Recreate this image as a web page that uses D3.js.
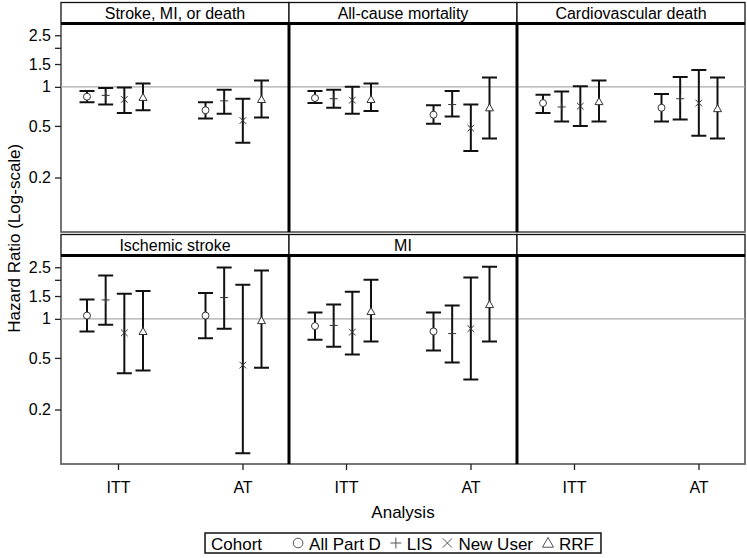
<!DOCTYPE html>
<html>
<head>
<meta charset="utf-8">
<script src="https://cdn.jsdelivr.net/npm/d3@7"></script>
<style>
  body { margin: 0; background: #fff; }
  svg { display: block; font-family: "Liberation Sans", Arial, sans-serif; }
</style>
</head>
<body>
<div id="chart"></div>
<script>
// panel titles (row-major, 3 columns, last cell empty)
const panels = ['Stroke, MI, or death', 'All-cause mortality', 'Cardiovascular death',
  'Ischemic stroke', 'MI', ''];
const analyses = ['ITT', 'AT'];
const cohorts = ['All Part D', 'LIS', 'New User', 'RRF'];
const yTicks = [0.2, 0.5, 1, 1.5, 2, 2.5];
const yTickLabels = ['0.2', '0.5', '1', '1.5', '', '2.5'];

// hazard ratio estimates: [panel][analysis][cohort]
const hrEst = [
  [[0.84, 0.86, 0.80, 0.83], [0.66, 0.78, 0.55, 0.80]],
  [[0.82, 0.81, 0.79, 0.80], [0.61, 0.73, 0.48, 0.69]],
  [[0.75, 0.70, 0.71, 0.77], [0.69, 0.81, 0.75, 0.68]],
  [[1.06, 1.40, 0.78, 0.80], [1.06, 1.46, 0.44, 0.97]],
  [[0.88, 0.89, 0.79, 1.14], [0.80, 0.77, 0.84, 1.29]],
];
const hrLow = [
  [[0.76, 0.73, 0.63, 0.66], [0.57, 0.62, 0.37, 0.58]],
  [[0.75, 0.69, 0.62, 0.65], [0.52, 0.59, 0.32, 0.40]],
  [[0.63, 0.54, 0.50, 0.54], [0.54, 0.56, 0.42, 0.40]],
  [[0.80, 0.90, 0.38, 0.40], [0.71, 0.84, 0.092, 0.42]],
  [[0.69, 0.61, 0.53, 0.67], [0.57, 0.46, 0.34, 0.67]],
];
const hrHigh = [
  [[0.93, 0.98, 0.99, 1.06], [0.76, 0.95, 0.81, 1.12]],
  [[0.93, 0.95, 1.00, 1.06], [0.72, 0.93, 0.73, 1.18]],
  [[0.87, 0.92, 1.01, 1.12], [0.88, 1.19, 1.35, 1.18]],
  [[1.41, 2.16, 1.56, 1.64], [1.58, 2.49, 1.83, 2.36]],
  [[1.12, 1.29, 1.62, 2.00], [1.12, 1.27, 2.08, 2.52]],
];

const width = 747;
const height = 558;
const left = 61;
const panelW = 228;
const headH = 21;
const plotH = 208.5;
const rowTop = [2.5, 234.5];
const font = '16px';
const bigFont = '17px';

const svg = d3.select('#chart')
    .append('svg')
    .attr('width', width)
    .attr('height', height);

const yScale = d3.scaleLog().domain([0.076, 3.08]).range([plotH, 0]);
const xTick = d3.scalePoint().domain(analyses).range([57, 181.5]);
const xCluster = d3.scalePoint().domain(analyses).range([54, 172.5]);
const xOff = d3.scalePoint().domain(cohorts).range([-28, 28]);

// thin open glyphs like the reference markers
const markerPath = (cohort, s) => {
  if (cohort === 'All Part D') return d3.symbol(d3.symbolCircle, s * s * 0.6)();
  if (cohort === 'LIS') return `M${-s / 2},0H${s / 2}M0,${-s / 2}V${s / 2}`;
  if (cohort === 'New User') return `M${-s / 2.4},${-s / 2.4}L${s / 2.4},${s / 2.4}M${-s / 2.4},${s / 2.4}L${s / 2.4},${-s / 2.4}`;
  return `M0,${-s / 2}L${s / 2},${s / 2.6}L${-s / 2},${s / 2.6}Z`;
};

panels.forEach((title, p) => {
  const row = Math.floor(p / 3);
  const col = p % 3;
  const x0 = left + col * panelW;
  const top = rowTop[row];
  const plotTop = top + headH;

  // header strip
  svg.append('rect')
      .attr('x', x0)
      .attr('y', top)
      .attr('width', panelW)
      .attr('height', headH)
      .attr('fill', '#fff')
      .attr('stroke', '#111')
      .attr('stroke-width', 1.3);
  svg.append('text')
      .attr('x', x0 + panelW / 2)
      .attr('y', top + headH / 2 + 5.5)
      .attr('text-anchor', 'middle')
      .style('font-size', font)
      .text(title);

  const g = svg.append('g')
      .attr('transform', `translate(${x0}, ${plotTop})`);

  // plot frame
  g.append('rect')
      .attr('width', panelW)
      .attr('height', plotH)
      .attr('fill', 'none')
      .attr('stroke', '#666')
      .attr('stroke-width', 1.8);

  // reference line at HR = 1
  g.append('line')
      .attr('x1', 0)
      .attr('x2', panelW)
      .attr('y1', yScale(1))
      .attr('y2', yScale(1))
      .attr('stroke', '#aaa')
      .attr('stroke-width', 1.2);

  if (col === 0) {
    const ax = g.append('g')
        .call(d3.axisLeft(yScale)
            .tickValues(yTicks)
            .tickFormat((d, i) => yTickLabels[i])
            .tickSize(6)
            .tickPadding(4));
    ax.select('.domain').remove();
    ax.selectAll('line').attr('stroke', '#222').attr('stroke-width', 1.3);
    ax.selectAll('text')
        .style('font-size', font)
        .style('font-family', '"Liberation Sans", Arial, sans-serif')
        .attr('fill', '#000');
  }

  if (row === 1) {
    const ax = g.append('g')
        .attr('transform', `translate(0, ${plotH})`)
        .call(d3.axisBottom(xTick).tickSize(6).tickPadding(12));
    ax.select('.domain').remove();
    ax.selectAll('line').attr('stroke', '#222').attr('stroke-width', 1.3);
    ax.selectAll('text')
        .style('font-size', font)
        .style('font-family', '"Liberation Sans", Arial, sans-serif')
        .attr('fill', '#000');
  }

  if (p >= hrEst.length) return;

  const pts = [];
  analyses.forEach((a, ai) => {
    cohorts.forEach((c, ci) => {
      pts.push({
        analysis: a,
        cohort: c,
        est: hrEst[p][ai][ci],
        low: hrLow[p][ai][ci],
        high: hrHigh[p][ai][ci],
      });
    });
  });

  const bar = g.selectAll('.bar')
      .data(pts)
      .enter()
      .append('g')
      .attr('class', 'bar')
      .attr('transform', (d) => `translate(${xCluster(d.analysis) + xOff(d.cohort)}, 0)`);

  bar.append('path')
      .attr('d', (d) => {
        const yl = yScale(d.low);
        const yh = yScale(d.high);
        return `M0,${yl}V${yh}M-7.5,${yl}H7.5M-7.5,${yh}H7.5`;
      })
      .attr('fill', 'none')
      .attr('stroke', '#111')
      .attr('stroke-width', 2);

  bar.append('path')
      .attr('transform', (d) => `translate(0, ${yScale(d.est)})`)
      .attr('d', (d) => markerPath(d.cohort, 8))
      .attr('fill', '#fff')
      .attr('stroke', '#333')
      .attr('stroke-width', 1);
});

// thick separators between columns and under headers
[0, 1].forEach((row) => {
  const plotTop = rowTop[row] + headH;
  svg.append('line')
      .attr('x1', left)
      .attr('x2', left + 3 * panelW)
      .attr('y1', plotTop)
      .attr('y2', plotTop)
      .attr('stroke', '#000')
      .attr('stroke-width', 3);
  [1, 2].forEach((c) => {
    svg.append('line')
        .attr('x1', left + c * panelW)
        .attr('x2', left + c * panelW)
        .attr('y1', plotTop)
        .attr('y2', plotTop + plotH)
        .attr('stroke', '#000')
        .attr('stroke-width', 3);
  });
});

// axis titles
svg.append('text')
    .attr('transform', `translate(20, ${(rowTop[0] + rowTop[1] + headH + plotH) / 2 + 5}) rotate(-90)`)
    .attr('text-anchor', 'middle')
    .style('font-size', bigFont)
    .text('Hazard Ratio (Log-scale)');

svg.append('text')
    .attr('x', left + 1.5 * panelW)
    .attr('y', 518)
    .attr('text-anchor', 'middle')
    .style('font-size', bigFont)
    .text('Analysis');

// legend, centred under the panels
const legend = svg.append('g');
const legendBox = legend.append('rect')
    .attr('y', 533)
    .attr('height', 20)
    .attr('fill', '#fff')
    .attr('stroke', '#111')
    .attr('stroke-width', 1.5);
let lx = 6;
const cohortText = legend.append('text')
    .attr('x', lx)
    .attr('y', 549.5)
    .style('font-size', bigFont)
    .text('Cohort');
lx += cohortText.node().getComputedTextLength() + 36;
cohorts.forEach((c, i) => {
  legend.append('path')
      .attr('transform', `translate(${lx}, 543)`)
      .attr('d', markerPath(c, 11))
      .attr('fill', 'none')
      .attr('stroke', '#555')
      .attr('stroke-width', 1);
  const t = legend.append('text')
      .attr('x', lx + 11)
      .attr('y', 549.5)
      .style('font-size', bigFont)
      .text(c);
  lx += 11 + t.node().getComputedTextLength() + (i < cohorts.length - 1 ? 15 : 7);
});
legendBox.attr('width', lx);
legend.attr('transform', `translate(${left + 1.5 * panelW - lx / 2}, 0)`);
</script>
</body>
</html>
